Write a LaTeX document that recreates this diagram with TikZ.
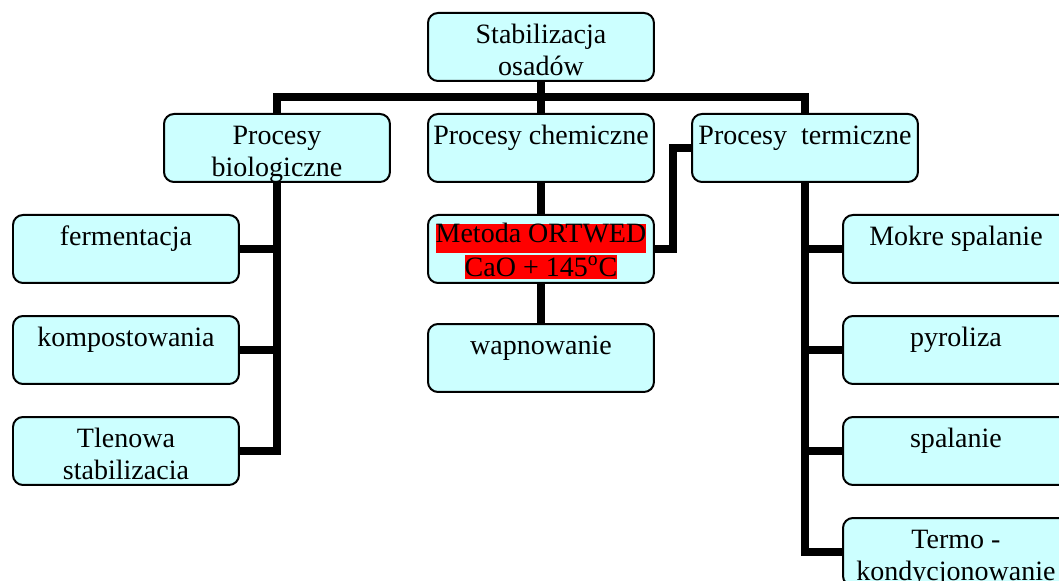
\documentclass[tikz,border=0pt]{standalone}
\usepackage{fontspec}
\setmainfont{Liberation Serif}
\usetikzlibrary{calc, backgrounds}
\definecolor{jasny}{HTML}{CCFFFF}
\definecolor{czerwony}{HTML}{FF0000}

\tikzset{
  odstep/.store in=\odstep, odstep=0.62cm,
  blok/.style={draw=black, line width=0.04cm, fill=jasny, rounded corners=0.2cm,
    anchor=north west, inner sep=0pt, minimum width=4.52cm, minimum height=1.36cm,
    font=\fontsize{15.94}{17.65}\selectfont,
    execute at begin node={\begin{minipage}[t][1.36cm][t]{4.52cm}\centering\rule{0pt}{\odstep}},
    execute at end node={\end{minipage}}},
  linia/.style={line width=0.16cm, black}
}
% red highlight of one line: height, depth, text
\newcommand{\podswietl}[3]{{\setlength{\fboxsep}{0pt}\colorbox{czerwony}{\rule[-#2]{0pt}{#1}#3}}}

\begin{document}
\begin{tikzpicture}[x=0.02cm, y=-0.02cm]
\clip (0,0) rectangle (1059,581);
% top
\node[blok] (gora) at (427,12) {Stabilizacja\\osadów};
% second row
\node[blok] (bio) at (163,113) {Procesy\\biologiczne};
\node[blok] (chem) at (427,113) {Procesy chemiczne};
\node[blok] (term) at (691,113) {Procesy~~termiczne};
% biological
\node[blok] (ferm) at (12,214) {fermentacja};
\node[blok] (komp) at (12,315) {kompostowania};
\node[blok] (tlen) at (12,416) {Tlenowa\\stabilizacia};
% chemical
\node[blok, odstep=0.56cm] (metoda) at (427,214) {\lineskip=0pt
  \podswietl{0.48cm}{0.2cm}{Metoda ORTWED}\\\podswietl{0.48cm}{0.04cm}{CaO + 145\textsuperscript{o}C}};
\node[blok] (wapno) at (427,323) {wapnowanie};
% thermal
\node[blok] (mokre) at (842,214) {Mokre spalanie};
\node[blok] (pyro) at (842,315) {pyroliza};
\node[blok] (spal) at (842,416) {spalanie};
\node[blok] (termo) at (842,517) {Termo -\\kondycjonowanie};

% connectors
\begin{scope}[on background layer]
\coordinate (szyna) at ($(gora.south)!0.5!(chem.north)$);
\draw[linia] (gora.south) -- (chem.north);
\draw[linia] (bio.north) |- (szyna) -| (term.north);
\draw[linia] (bio.south) |- (tlen.east);
\draw[linia] (ferm.east) -- (ferm.east -| bio.south);
\draw[linia] (komp.east) -- (komp.east -| bio.south);
\draw[linia] (chem.south) -- (metoda.north);
\draw[linia] (metoda.south) -- (wapno.north);
\draw[linia] (metoda.east) -| ($(metoda.east)!0.5!(term.west)$) |- (term.west);
\draw[linia] (term.south) |- (termo.west);
\draw[linia] (mokre.west) -- (mokre.west -| term.south);
\draw[linia] (pyro.west) -- (pyro.west -| term.south);
\draw[linia] (spal.west) -- (spal.west -| term.south);
\end{scope}
\end{tikzpicture}
\end{document}
